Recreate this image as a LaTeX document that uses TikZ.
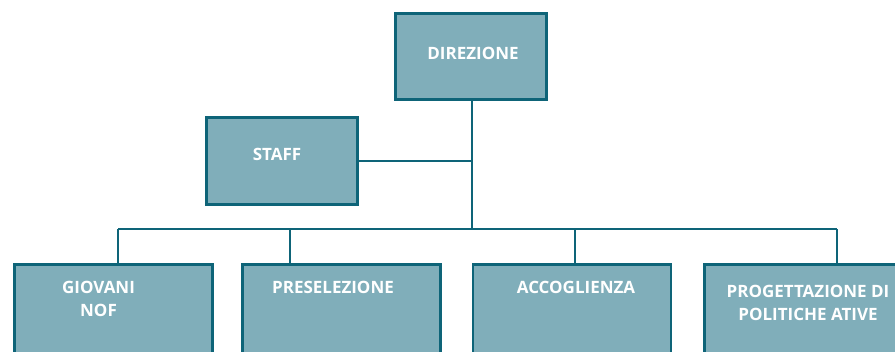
\documentclass[tikz,border=0pt]{standalone}
\usepackage{fontspec}
\setmainfont{Open Sans}
\usepackage{xcolor}
\usepackage{tikz}
\usetikzlibrary{calc}
\definecolor{boxfill}{HTML}{80AEBA}
\definecolor{boxline}{HTML}{0E6478}

\begin{document}
\begin{tikzpicture}[
  x=0.03cm, y=-0.03cm,
  font=\bfseries\fontsize{14.5}{19.6}\selectfont,
  unit/.style={draw=boxline, line width=2.5pt, fill=boxfill, inner sep=0pt, outer sep=0pt},
  lbl/.style={text=white, align=center, inner sep=0pt},
  wire/.style={draw=boxline, line width=1.8pt}]
\useasboundingbox (0,0) rectangle (895,351);
\clip (0,0) rectangle (895,351);
% top levels
\node[unit, minimum width=4.53cm, minimum height=2.58cm] (dir) at (471,56.5) {};
\node[lbl] (dirtxt) at (473,53) {DIREZIONE};
\node[unit, minimum width=4.53cm, minimum height=2.61cm] (staff) at (282,161) {};
\node[lbl] (stafftxt) at (277,154) {STAFF};
% offices (cut off at the bottom)
\foreach \n/\x in {giovani/113.5, presel/341.5, accogl/572, progett/803.5}{
  \node[unit, anchor=north, minimum width=5.94cm, minimum height=4.5cm] (\n) at (\x,264.5) {};
}
\node[lbl] (giovanitxt) at (98.5,298.5) {GIOVANI\\NOF};
\node[lbl] (preseltxt) at (333,287) {PRESELEZIONE};
\node[lbl] (accogltxt) at (576,287) {ACCOGLIENZA};
\node[lbl] (progetttxt) at (808,303) {PROGETTAZIONE DI\\POLITICHE ATIVE};
% tree lines
\coordinate (bus) at (472,229);
\coordinate (giovanitop) at ($(giovani.north)+(4.5,0)$);
\coordinate (preseltop) at ($(presel.north)+(-51.5,0)$);
\coordinate (accogltop) at ($(accogl.north)+(3,0)$);
\coordinate (progetttop) at ($(progett.north)+(33.5,0)$);
\draw[wire] (dir.south -| bus) -- (bus);
\draw[wire] (staff.east) -- (staff.east -| bus);
\foreach \n in {giovani, presel, accogl, progett}{
  \draw[wire] (\n top) -- (\n top |- bus);
}
\draw[wire] (giovanitop |- bus) -- (progetttop |- bus);
\end{tikzpicture}
\end{document}
